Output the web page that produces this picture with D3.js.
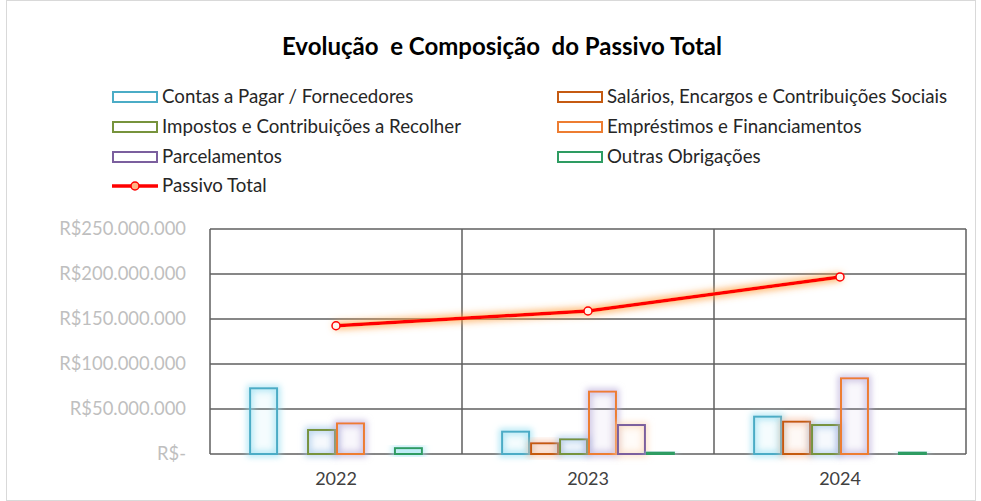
<!DOCTYPE html>
<html>
<head>
<meta charset="utf-8">
<script src="https://cdn.jsdelivr.net/npm/d3@7"></script>
<style>
  body { margin: 0; background: #fff; }
  text { font-family: Lato, "Open Sans", sans-serif; }
</style>
</head>
<body>
<div id="chart"></div>
<script>
var years = ["2022", "2023", "2024"];
var seriesNames = ["Contas a Pagar / Fornecedores", "Salários, Encargos e Contribuições Sociais",
  "Impostos e Contribuições a Recolher", "Empréstimos e Financiamentos",
  "Parcelamentos", "Outras Obrigações"];
var contas = [73000000, 24800000, 41500000];
var salarios = [0, 11900000, 35900000];
var impostos = [26700000, 16300000, 32200000];
var emprestimos = [34000000, 69300000, 84100000];
var parcelamentos = [0, 32200000, 0];
var outras = [6500000, 1500000, 1500000];
var passivoTotal = [142500000, 158900000, 196700000];
var yTicks = [0, 50000000, 100000000, 150000000, 200000000, 250000000];

var seriesValues = [contas, salarios, impostos, emprestimos, parcelamentos, outras];
var strokeColors = ["#4bacc6", "#c55a11", "#77933c", "#ed7d31", "#7b5f9e", "#2e9c62"];
var glowColors = ["#8fdcf0", "#f5b89a", "#9cc3e6", "#b4a7d6", "#fbd5b5", "#9fe4f2"];

var W = 981, H = 501;
var margin = {top: 229, right: 15, bottom: 47, left: 210};
var width = W - margin.left - margin.right,
    height = H - margin.top - margin.bottom;

var svg = d3.select("#chart").append("svg")
  .attr("width", W).attr("height", H);

// outer chart border
svg.append("rect")
  .attr("x", 6.5).attr("y", 0.5).attr("width", 969).attr("height", 500)
  .attr("fill", "none").attr("stroke", "#d9d9d9");

var defs = svg.append("defs");
function glow(id, color, dev, op) {
  var f = defs.append("filter").attr("id", id)
    .attr("x", "-50%").attr("y", "-50%").attr("width", "200%").attr("height", "200%");
  f.append("feMorphology").attr("in", "SourceAlpha").attr("operator", "dilate").attr("radius", 2).attr("result", "d");
  f.append("feGaussianBlur").attr("in", "d").attr("stdDeviation", dev).attr("result", "b");
  f.append("feFlood").attr("flood-color", color).attr("flood-opacity", op);
  f.append("feComposite").attr("in2", "b").attr("operator", "in").attr("result", "g");
  var m = f.append("feMerge");
  m.append("feMergeNode").attr("in", "g");
  m.append("feMergeNode").attr("in", "SourceGraphic");
}
glowColors.forEach(function(c, i) { glow("glow" + i, c, 3, 0.7); });
glow("glowLine", "#ffa040", 3.5, 0.75);

// title
svg.append("text")
  .attr("x", 502).attr("y", 55)
  .attr("text-anchor", "middle")
  .style("font-size", "24px").style("font-weight", "bold").style("white-space", "pre")
  .attr("fill", "#000")
  .text("Evolução  e Composição  do Passivo Total");

// legend
var legendPos = [[112, 97], [557, 97], [112, 127], [557, 127], [112, 157], [557, 157]];
seriesNames.forEach(function(name, i) {
  var g = svg.append("g").attr("transform", "translate(" + legendPos[i][0] + "," + legendPos[i][1] + ")");
  g.append("rect").attr("x", 1).attr("y", -5).attr("width", 44).attr("height", 10)
    .attr("fill", "#fff").attr("stroke", strokeColors[i]).attr("stroke-width", 2);
  g.append("text").attr("x", 50).attr("y", 6).style("font-size", "18.7px").attr("fill", "#262626").text(name);
});
var lg = svg.append("g").attr("transform", "translate(112,186)");
lg.append("line").attr("x1", 0).attr("x2", 46).attr("y1", 0).attr("y2", 0)
  .attr("stroke", "#ff0000").attr("stroke-width", 3.5);
lg.append("circle").attr("cx", 23).attr("cy", 0).attr("r", 4)
  .attr("fill", "#ffb585").attr("stroke", "#ff0000").attr("stroke-width", 1.5);
lg.append("text").attr("x", 50).attr("y", 6).style("font-size", "18.7px").attr("fill", "#262626").text("Passivo Total");

var g = svg.append("g").attr("transform", "translate(" + margin.left + "," + margin.top + ")");

var x = d3.scaleBand().domain(years).range([0, width]);
var x1 = d3.scaleBand().domain(d3.range(seriesValues.length))
  .range([0, x.bandwidth()]).paddingOuter(1.35).paddingInner(0);
var y = d3.scaleLinear().domain([0, 250000000]).range([height, 0]);

// horizontal gridlines
g.selectAll(".hgrid").data(yTicks).enter().append("line")
  .attr("x1", 0).attr("x2", width)
  .attr("y1", function(d) { return y(d); }).attr("y2", function(d) { return y(d); })
  .attr("stroke", "#5f5f5f").attr("stroke-width", 1.5);
// vertical gridlines
g.selectAll(".vgrid").data(d3.range(years.length + 1)).enter().append("line")
  .attr("x1", function(d) { return d * x.step(); }).attr("x2", function(d) { return d * x.step(); })
  .attr("y1", 0).attr("y2", height)
  .attr("stroke", "#5f5f5f").attr("stroke-width", 1.5);

// y axis labels
var fmt = function(v) {
  if (v === 0) return "R$-";
  return "R$" + d3.format(",")(v).replace(/,/g, ".");
};
g.append("g").call(d3.axisLeft(y).tickValues(yTicks).tickFormat(fmt).tickSize(0).tickPadding(24))
  .call(function(a) { a.select(".domain").remove(); })
  .selectAll("text")
  .style("font-size", "18.4px").style("font-family", "Lato, 'Open Sans', sans-serif")
  .attr("fill", "#bfbfbf");

// x axis labels
g.append("g").attr("transform", "translate(0," + height + ")")
  .call(d3.axisBottom(x).tickSize(0).tickPadding(18))
  .call(function(a) { a.select(".domain").remove(); })
  .selectAll("text")
  .style("font-size", "18px").style("font-family", "Lato, 'Open Sans', sans-serif")
  .attr("fill", "#404040");

// bars
seriesValues.forEach(function(vals, i) {
  g.selectAll(".bar" + i).data(vals).enter().append("rect")
    .attr("x", function(d, j) { return x(years[j]) + x1(i) + 1; })
    .attr("y", function(d) { return y(d); })
    .attr("width", x1.bandwidth() - 2)
    .attr("height", function(d) { return height - y(d); })
    .attr("fill", d3.color(glowColors[i]).copy({opacity: 0.06}) + "")
    .attr("stroke", strokeColors[i]).attr("stroke-width", 2)
    .attr("filter", "url(#glow" + i + ")")
    .style("display", function(d) { return d > 0 ? null : "none"; });
});

// passivo total line
var line = d3.line()
  .x(function(d, j) { return x(years[j]) + x.bandwidth() / 2; })
  .y(function(d) { return y(d); });
g.append("path").datum(passivoTotal)
  .attr("d", line).attr("fill", "none")
  .attr("stroke", "#ff0000").attr("stroke-width", 3.5)
  .attr("filter", "url(#glowLine)");
g.selectAll(".pt").data(passivoTotal).enter().append("circle")
  .attr("cx", function(d, j) { return x(years[j]) + x.bandwidth() / 2; })
  .attr("cy", function(d) { return y(d); })
  .attr("r", 4)
  .attr("fill", "#fff4ec").attr("stroke", "#ff0000").attr("stroke-width", 1.5);
</script>
</body>
</html>
